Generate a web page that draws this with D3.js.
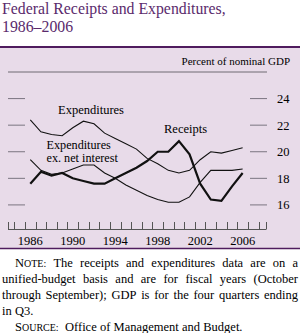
<!DOCTYPE html>
<html>
<head>
<meta charset="utf-8">
<script src="https://cdn.jsdelivr.net/npm/d3@7"></script>
<style>
  body { margin: 0; background: #fff; }
  svg text { font-family: "Liberation Serif", "Times New Roman", serif; }
</style>
</head>
<body>
<div class="canvas"></div>
<script>
// data (fiscal years, percent of nominal GDP)
const years = d3.range(1986, 2007);
const receipts = [17.6, 18.5, 18.2, 18.4, 18.0, 17.8, 17.6, 17.6, 18.0, 18.4, 18.8,
  19.3, 20.0, 20.0, 20.8, 19.8, 17.6, 16.4, 16.3, 17.4, 18.4];
const expenditures = [22.4, 21.5, 21.3, 21.2, 21.8, 22.3, 22.1, 21.4, 21.0, 20.6, 20.2,
  19.5, 19.1, 18.6, 18.4, 18.6, 19.4, 20.0, 19.9, 20.1, 20.3];
const exInterest = [19.4, 18.6, 18.3, 18.4, 18.7, 19.0, 19.0, 18.4, 18.0, 17.5, 17.1,
  16.7, 16.4, 16.2, 16.2, 16.6, 17.7, 18.6, 18.6, 18.6, 18.7];
const yTicks = [16, 18, 20, 22, 24];
const xLabels = [1986, 1990, 1994, 1998, 2002, 2006];

const width = 300, height = 333;

const svg = d3.select('.canvas')
  .append('svg')
  .attr('width', width)
  .attr('height', height);

// Title
const title = svg.append('text')
  .attr('fill', '#5a2a6c')
  .attr('font-size', 15.8);
title.append('tspan').attr('x', 2).attr('y', 13.5).text('Federal Receipts and Expenditures,');
title.append('tspan').attr('x', 2).attr('y', 31.5).text('1986\u20132006');

// Panel
svg.append('rect')
  .attr('x', 0).attr('y', 47)
  .attr('width', width).attr('height', 201)
  .attr('fill', '#e8dbe9');
svg.append('line')
  .attr('x1', 0).attr('x2', width).attr('y1', 47).attr('y2', 47)
  .attr('stroke', '#4f1c5e').attr('stroke-width', 2);
svg.append('line')
  .attr('x1', 0).attr('x2', width).attr('y1', 248.5).attr('y2', 248.5)
  .attr('stroke', '#4f1c5e').attr('stroke-width', 1.5);

svg.append('text')
  .attr('x', 290).attr('y', 65)
  .attr('text-anchor', 'end')
  .attr('font-size', 11)
  .text('Percent of nominal GDP');

// Scales
const x = d3.scaleLinear().domain([1983.9, 2008.2]).range([8, 266]);
const y = d3.scaleLinear().domain([14.15, 26]).range([229.5, 72]);

// top rule
svg.append('line')
  .attr('x1', 8).attr('x2', 267)
  .attr('y1', y(26)).attr('y2', y(26))
  .attr('stroke', '#6f6a72').attr('stroke-width', 1);

// y ticks both sides
const yg = svg.append('g');
yg.selectAll('line.l').data(yTicks).enter().append('line')
  .attr('x1', 8).attr('x2', 25)
  .attr('y1', (d) => y(d)).attr('y2', (d) => y(d))
  .attr('stroke', '#7a7580');
yg.selectAll('line.r').data(yTicks).enter().append('line')
  .attr('x1', 250).attr('x2', 267)
  .attr('y1', (d) => y(d)).attr('y2', (d) => y(d))
  .attr('stroke', '#7a7580');
yg.selectAll('text').data(yTicks).enter().append('text')
  .attr('x', 277)
  .attr('y', (d) => y(d) + 4.5)
  .attr('font-size', 12.5)
  .text((d) => d);

// x axis: baseline with ticks between years
const xg = svg.append('g');
xg.append('line')
  .attr('x1', 8).attr('x2', 266)
  .attr('y1', 229.5).attr('y2', 229.5)
  .attr('stroke', '#555');
const tickYears = d3.range(1984.5, 2008, 1);
xg.selectAll('line.t').data(tickYears.concat([1983.9, 2008.2])).enter().append('line')
  .attr('x1', (d) => Math.round(x(d)) + 0.5).attr('x2', (d) => Math.round(x(d)) + 0.5)
  .attr('y1', 222).attr('y2', 229.5)
  .attr('stroke', '#555');
xg.selectAll('text').data(xLabels).enter().append('text')
  .attr('x', (d) => x(d))
  .attr('y', 244.5)
  .attr('text-anchor', 'middle')
  .attr('font-size', 12.5)
  .text((d) => d);

// Lines
const line = d3.line()
  .x((d, i) => x(years[i]))
  .y((d) => y(d));

svg.append('path').datum(expenditures)
  .attr('d', line).attr('fill', 'none')
  .attr('stroke', '#111').attr('stroke-width', 1.1);
svg.append('path').datum(exInterest)
  .attr('d', line).attr('fill', 'none')
  .attr('stroke', '#111').attr('stroke-width', 1.1);
svg.append('path').datum(receipts)
  .attr('d', line).attr('fill', 'none')
  .attr('stroke', '#111').attr('stroke-width', 2.2);

// Line labels
const lab = (tx, ty, s, f) => svg.append('text')
  .attr('x', tx).attr('y', ty).attr('font-size', f || 12.5).text(s);
lab(58, 114, 'Expenditures');
lab(46.5, 148.5, 'Expenditures', 12.2);
lab(46.5, 161.8, 'ex. net interest', 12.2);
lab(164, 133, 'Receipts');

// Footnote with justified lines
const fs = 12.5;
const word = (g, w) => {
  const t = g.append('text').attr('font-size', fs);
  if (w.sc) {
    t.append('tspan').text(w.sc[0]);
    t.append('tspan').attr('font-size', fs * 0.8).text(w.sc.slice(1));
  } else {
    t.text(w);
  }
  return t;
};
const noteLines = [
  { x0: 15, y: 266.5, justify: true, words: [{ sc: 'NOTE:' }, 'The', 'receipts', 'and', 'expenditures', 'data', 'are', 'on', 'a'] },
  { x0: 2, y: 282.5, justify: true, words: ['unified-budget', 'basis', 'and', 'are', 'for', 'fiscal', 'years', '(October'] },
  { x0: 2, y: 298.5, justify: true, words: ['through', 'September);', 'GDP', 'is', 'for', 'the', 'four', 'quarters', 'ending'] },
  { x0: 2, y: 314.5, justify: false, words: ['in', 'Q3.'] },
  { x0: 15, y: 330.5, justify: false, words: [{ sc: 'SOURCE:' }, '', 'Office', 'of', 'Management', 'and', 'Budget.'] }
];
noteLines.forEach((ln) => {
  const g = svg.append('g');
  const nodes = ln.words.map((w) => word(g, w));
  const widths = nodes.map((n) => n.node().getComputedTextLength());
  const total = d3.sum(widths);
  const gap = ln.justify ? (298 - ln.x0 - total) / (nodes.length - 1) : 3.2;
  let cx = ln.x0;
  nodes.forEach((n, i) => {
    n.attr('x', cx).attr('y', ln.y);
    cx += widths[i] + gap;
  });
});
</script>
</body>
</html>
